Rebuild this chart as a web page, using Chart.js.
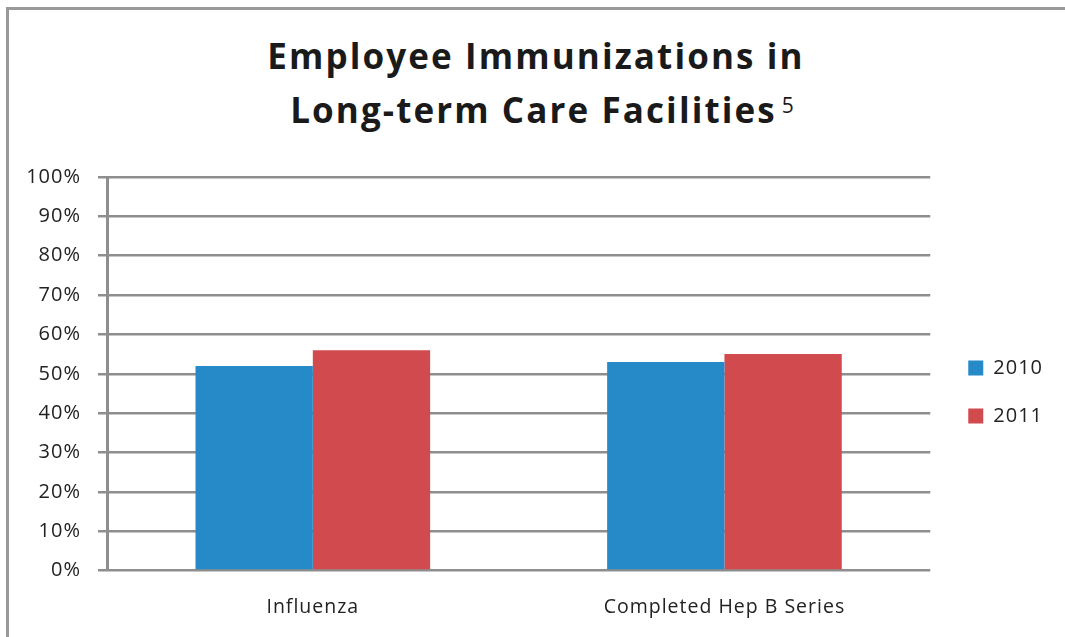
<!DOCTYPE html>
<html>
<head>
<meta charset="utf-8">
<script src="https://cdn.jsdelivr.net/npm/chart.js@4"></script>
<style>
  html, body { margin: 0; padding: 0; background: #fff; }
  #wrap { position: relative; width: 1065px; height: 637px; overflow: hidden; }
  #frame { position: absolute; left: 6px; top: 7px; right: -10px; bottom: -10px;
           border-left: 3px solid #999; border-top: 3px solid #999; }
  #title { position: absolute; left: 0; top: 29px; width: 1072px; text-align: center;
           font-family: "Open Sans", sans-serif; font-weight: bold; font-size: 35px; line-height: 54px;
           color: #1a1a1a; letter-spacing: 2.1px; }
  #title .l2 { position: relative; left: 6px; }
  #title sup { font-weight: normal; font-size: 21px; vertical-align: 10px; line-height: 0; margin-left: 5px; letter-spacing: 0; }
  #chart { position: absolute; left: 0; top: 0; }
</style>
</head>
<body>
<div id="wrap">
  <div id="frame"></div>
  <div id="title">Employee Immunizations in<br><span class="l2">Long-term Care Facilities<sup>5</sup></span></div>
  <canvas id="chart" width="1065" height="637"></canvas>
</div>
<script>
// Données du graphique
const categories = ['Influenza', 'Completed Hep B Series'];
const years = ['2010', '2011'];
const values2010 = [52, 53];
const values2011 = [56, 55];
const yTicks = [0, 10, 20, 30, 40, 50, 60, 70, 80, 90, 100];

const gridGray = '#8e8e8e';
const textColor = '#222';

// Espacement des lettres pour imiter la police d'origine
const letterSpacingPlugin = {
    id: 'letterSpacing',
    beforeInit: function(chart) { chart.ctx.letterSpacing = '1px'; },
    beforeUpdate: function(chart) { chart.ctx.letterSpacing = '1px'; },
    beforeDraw: function(chart) { chart.ctx.letterSpacing = '1px'; }
};

const ctx = document.getElementById('chart').getContext('2d');

const chart = new Chart(ctx, {
    type: 'bar',
    data: {
        labels: categories,
        datasets: [{
            label: years[0],
            data: values2010,
            backgroundColor: '#2689C8',
            categoryPercentage: 0.57,
            barPercentage: 1
        }, {
            label: years[1],
            data: values2011,
            backgroundColor: '#D14A4D',
            categoryPercentage: 0.57,
            barPercentage: 1
        }]
    },
    options: {
        responsive: false,
        animation: false,
        layout: {
            padding: { left: 0, top: 177, right: 12, bottom: -7 }
        },
        scales: {
            x: {
                grid: { display: false, drawTicks: false },
                border: { display: false },
                ticks: {
                    color: textColor,
                    padding: 25,
                    font: { family: 'Open Sans', size: 19.5 }
                }
            },
            y: {
                min: 0,
                max: 100,
                afterBuildTicks: function(scale) {
                    scale.ticks = yTicks.map(v => ({ value: v }));
                },
                afterFit: function(scale) {
                    scale.width = 107;
                },
                grid: {
                    color: gridGray,
                    lineWidth: 2.5,
                    tickLength: 9
                },
                border: { color: gridGray, width: 3 },
                ticks: {
                    color: textColor,
                    padding: 17,
                    font: { family: 'Open Sans', size: 20 },
                    callback: function(v) { return v + '%'; }
                }
            },
            // petit espace entre la zone du graphique et la légende
            spacer: {
                position: 'right',
                display: true,
                grid: { display: false },
                border: { display: false },
                ticks: { display: false },
                afterFit: function(scale) {
                    scale.width = 10;
                }
            }
        },
        plugins: {
            legend: {
                position: 'right',
                align: 'start',
                title: {
                    display: true,
                    text: ' ',
                    padding: { top: 138.6, bottom: 0 }
                },
                labels: {
                    boxWidth: 15,
                    boxHeight: 15,
                    padding: 28,
                    color: textColor,
                    font: { family: 'Open Sans', size: 20 }
                }
            },
            tooltip: { enabled: false }
        }
    },
    plugins: [letterSpacingPlugin]
});
</script>
</body>
</html>
